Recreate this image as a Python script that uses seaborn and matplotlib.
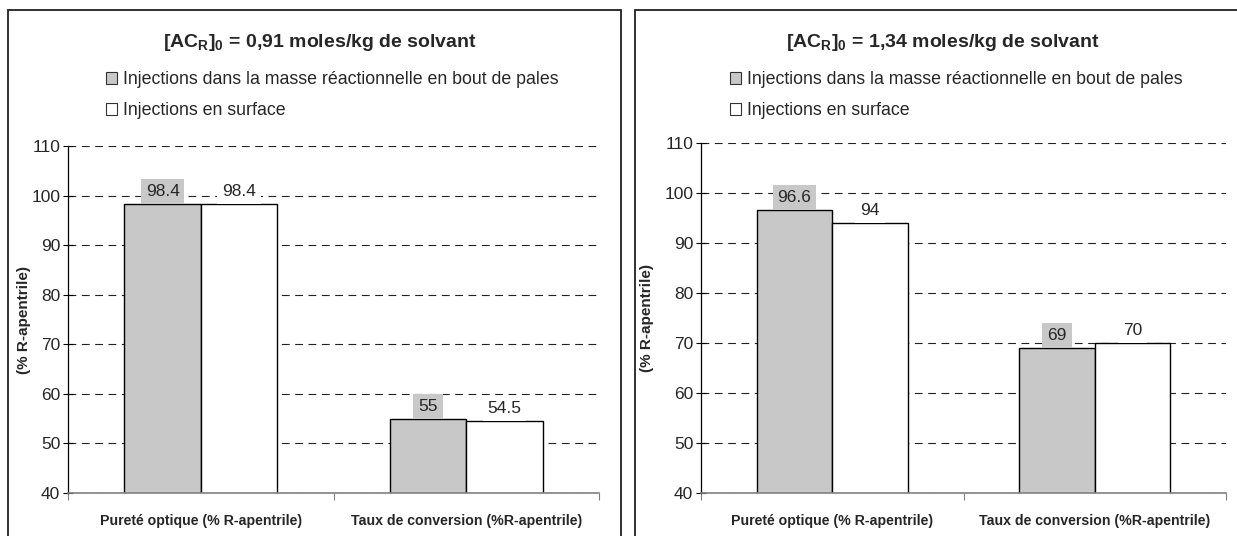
import matplotlib
matplotlib.use("Agg")
import matplotlib.pyplot as plt
import seaborn as sns
import pandas as pd
from matplotlib.patches import Rectangle, Patch

sns.set_style("white")
plt.rcParams['font.family'] = ['Liberation Sans', 'DejaVu Sans']
plt.rcParams['mathtext.fontset'] = 'custom'
plt.rcParams['mathtext.rm'] = 'Liberation Sans:bold'
plt.rcParams['mathtext.bf'] = 'Liberation Sans:bold'

categories = ['Pureté optique (% R-apentrile)', 'Taux de conversion (%R-apentrile)']
series = ['Injections dans la masse réactionnelle en bout de pales', 'Injections en surface']
left_masse = [98.4, 55]
left_surface = [98.4, 54.5]
right_masse = [96.6, 69]
right_surface = [94, 70]
titles = [r'[AC$_\mathrm{R}$]$_\mathrm{0}$ = 0,91 moles/kg de solvant',
          r'[AC$_\mathrm{R}$]$_\mathrm{0}$ = 1,34 moles/kg de solvant']
yticks = [40, 50, 60, 70, 80, 90, 100, 110]
ylabel = '(% R-apentrile)'
colors = ['#c8c8c8', '#ffffff']

W, H = 1237, 536
fig = plt.figure(figsize=(W / 100, H / 100), dpi=100)

# panel frames (px)
for x0, x1 in [(8, 621), (635, 1250)]:
    fig.patches.append(Rectangle((x0 / W, -0.05), (x1 - x0) / W, 1 - 10 / H + 0.05,
                                 transform=fig.transFigure, fill=False,
                                 edgecolor='#202020', linewidth=1.3))

panels = [
    dict(vals=(left_masse, left_surface), ax=(68, 599, 146, 493), title_x=320,
         leg_x=106, ylab_x=31),
    dict(vals=(right_masse, right_surface), ax=(701, 1226, 143, 493), title_x=943,
         leg_x=730, ylab_x=654),
]

for i, p in enumerate(panels):
    x0, x1, yt, yb = p['ax']
    ax = fig.add_axes([x0 / W, 1 - yb / H, (x1 - x0) / W, (yb - yt) / H])
    df = pd.DataFrame({
        'cat': categories * 2,
        'serie': [series[0]] * 2 + [series[1]] * 2,
        'val': list(p['vals'][0]) + list(p['vals'][1]),
    })
    sns.barplot(data=df, x='cat', y='val', hue='serie', palette=colors,
                width=0.575, edgecolor='black', linewidth=1.0, ax=ax,
                legend=False, zorder=2)
    ax.set_ylim(40, 110)
    ax.set_xlim(-0.5, 1.5)
    ax.set_yticks(yticks)
    ax.set_yticklabels([str(t) for t in yticks], fontsize=12.5)
    ax.yaxis.grid(True, linestyle=(0, (7, 5)), color='#222222', linewidth=0.8)
    ax.set_axisbelow(True)
    ax.tick_params(axis='y', direction='inout', length=7, width=0.8,
                   color='black', pad=2, left=True)
    ax.set_xticks([0, 1])
    ax.set_xticklabels(categories, fontsize=10.2, fontweight='bold')
    ax.tick_params(axis='x', length=0, pad=15)
    ax.set_xticks([-0.5, 0.5, 1.5], minor=True)
    ax.tick_params(axis='x', which='minor', direction='out', length=5,
                   width=0.8, color='#808080', bottom=True)
    ax.set_xlabel('')
    ax.set_ylabel(ylabel, fontsize=11, fontweight='bold')
    ax.yaxis.set_label_coords((p['ylab_x'] - x0) / (x1 - x0), 0.5)
    for s in ['top', 'right']:
        ax.spines[s].set_visible(False)
    ax.spines['left'].set_color('black')
    ax.spines['left'].set_linewidth(0.9)
    ax.spines['bottom'].set_color('#808080')
    ax.spines['bottom'].set_linewidth(1.2)
    ax.spines['bottom'].set_zorder(3)

    for cont, c in zip(ax.containers, colors):
        ax.bar_label(cont, fmt='%g', padding=3.5, fontsize=12.5, zorder=4,
                     bbox=dict(facecolor=c, edgecolor='none', pad=3.5))

    fig.text(p['title_x'] / W, 1 - 42 / H, titles[i], ha='center', va='center',
             fontsize=14, fontweight='bold')
    handles = [Patch(facecolor=c, edgecolor='#333333', linewidth=0.8) for c in colors]
    fig.legend(handles, series, loc='upper left',
               bbox_to_anchor=(p['leg_x'] / W, 1 - 71 / H), frameon=False,
               fontsize=12.8, handlelength=0.62, handleheight=0.62,
               handletextpad=0.35, labelspacing=0.8, borderpad=0,
               borderaxespad=0)

fig.savefig('out.png', dpi=100)
